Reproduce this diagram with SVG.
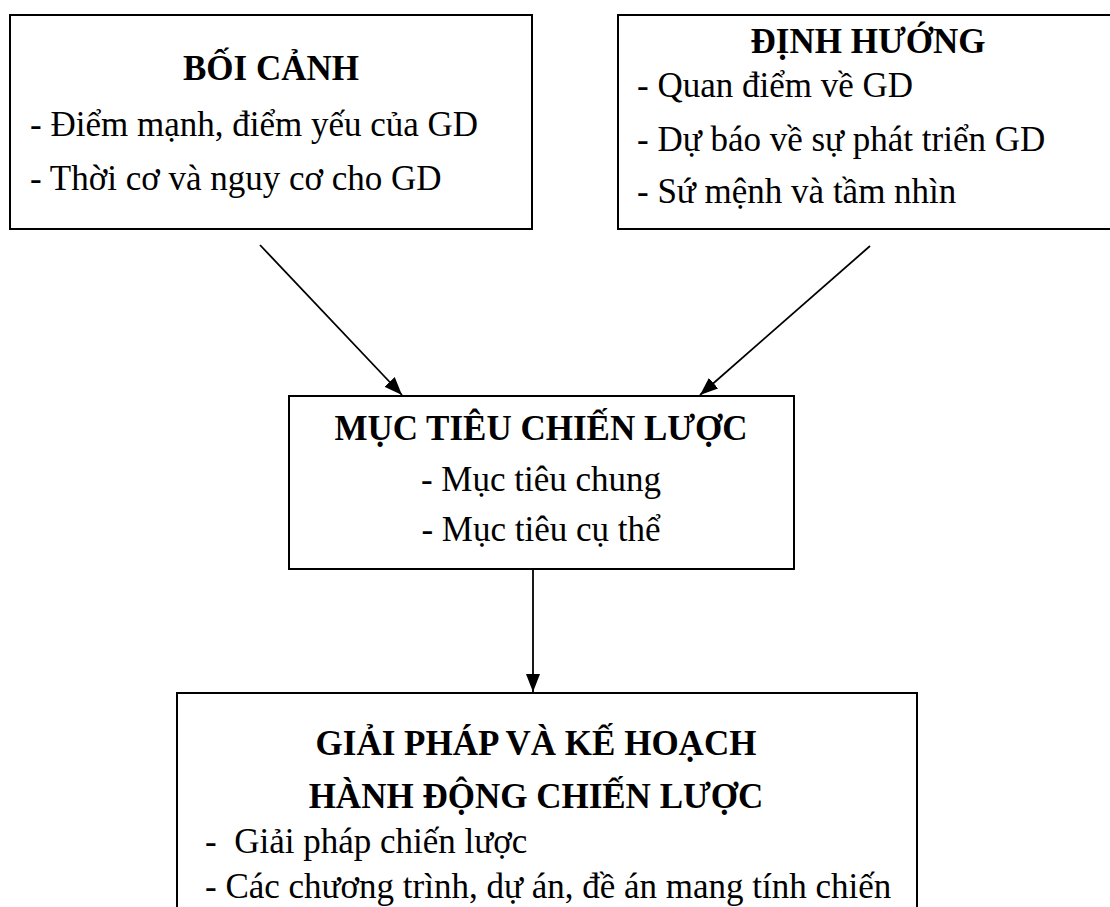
<svg xmlns="http://www.w3.org/2000/svg" width="1110" height="907" viewBox="0 0 1110 907">
<defs>
<marker id="ah" viewBox="0 0 18 14" refX="18" refY="7" markerWidth="18" markerHeight="14" markerUnits="userSpaceOnUse" orient="auto">
<path d="M0,0 L18,7 L0,14 Z" fill="#000"/>
</marker>
<style>
.box{fill:#fff;stroke:#000;stroke-width:2}
.t{font-family:"Liberation Serif","Times New Roman",serif;font-size:35px;fill:#000}
.b{font-weight:bold;text-anchor:middle}
.c{text-anchor:middle}
.ln{stroke:#000;stroke-width:1.8;fill:none;marker-end:url(#ah)}
</style>
</defs>
<rect width="1110" height="907" fill="#fff"/>
<g id="boi-canh">
<rect class="box" x="10" y="15" width="522" height="214"/>
<text class="t b" x="271" y="80">BỐI CẢNH</text>
<text class="t" x="30" y="136">- Điểm mạnh, điểm yếu của GD</text>
<text class="t" x="30" y="190">- Thời cơ và nguy cơ cho GD</text>
</g>
<g id="dinh-huong">
<rect class="box" x="618" y="15" width="494" height="214"/>
<text class="t b" x="868" y="53">ĐỊNH HƯỚNG</text>
<text class="t" x="637" y="97">- Quan điểm về GD</text>
<text class="t" x="637" y="151">- Dự báo về sự phát triển GD</text>
<text class="t" x="637" y="203">- Sứ mệnh và tầm nhìn</text>
</g>
<g id="muc-tieu">
<rect class="box" x="289" y="396" width="505" height="173"/>
<text class="t b" x="541" y="440">MỤC TIÊU CHIẾN LƯỢC</text>
<text class="t c" x="541" y="491">- Mục tiêu chung</text>
<text class="t c" x="541" y="541">- Mục tiêu cụ thể</text>
</g>
<g id="giai-phap">
<rect class="box" x="177" y="693" width="740" height="230"/>
<text class="t b" x="536" y="755">GIẢI PHÁP VÀ KẾ HOẠCH</text>
<text class="t b" x="536" y="808">HÀNH ĐỘNG CHIẾN LƯỢC</text>
<text class="t" x="205" y="853" xml:space="preserve">-  Giải pháp chiến lược</text>
<text class="t" x="205" y="898">- Các chương trình, dự án, đề án mang tính chiến</text>
</g>
<g id="connectors">
<line class="ln" x1="260" y1="245" x2="402" y2="395"/>
<line class="ln" x1="870" y1="246" x2="700" y2="395"/>
<line class="ln" x1="533" y1="569" x2="533" y2="692"/>
</g>
</svg>
